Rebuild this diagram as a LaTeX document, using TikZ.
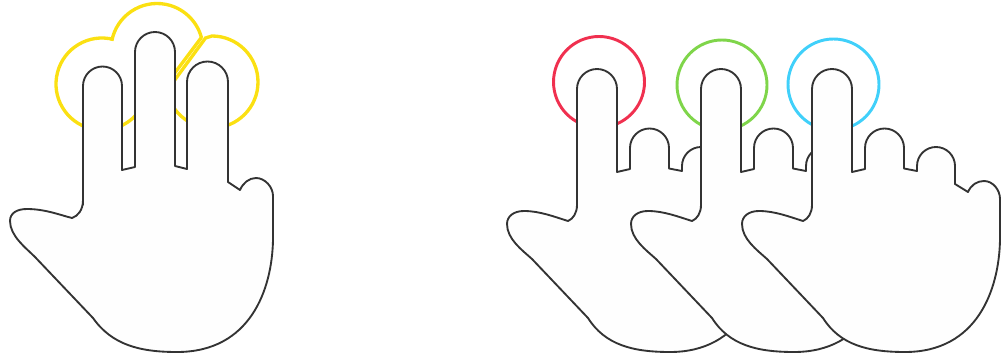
\documentclass[tikz,border=0pt]{standalone}
\definecolor{handline}{HTML}{333333}
\definecolor{handfill}{HTML}{FEFEFE}
\definecolor{ringyellow}{HTML}{FBE012}
\definecolor{ringred}{HTML}{F0304F}
\definecolor{ringgreen}{HTML}{7FD54A}
\definecolor{ringblue}{HTML}{40D0FA}
\tikzset{
  handshape/.style={draw=handline,fill=handfill,line width=1.4pt,line join=round},
  ring/.style={line width=2.2pt,line cap=butt},
  onefinger/.pic={
    \path[handshape] (812,-205) -- (812,-89) arc[start angle=180,end angle=0,radius=20]
      -- (852,-172) -- (865,-169) -- (865,-148) arc[start angle=180,end angle=0,radius=19.5]
      -- (904,-168.5) -- (917,-171) -- (917,-166) arc[start angle=180,end angle=0,radius=19]
      -- (955,-184) -- (968,-192) .. controls (971,-185) and (977,-181) .. (984,-181)
      .. controls (993,-181) and (1000,-190) .. (1000,-199) -- (1000,-240)
      .. controls (999,-290) and (977,-352) .. (905,-352)
      .. controls (868,-352) and (840,-345) .. (823,-318) -- (767,-259)
      .. controls (757,-250) and (742,-239) .. (742,-224)
      .. controls (742,-216) and (749,-211) .. (759,-211)
      .. controls (775,-211) and (790,-217) .. (803,-221)
      .. controls (808,-219) and (812,-213) .. (812,-205) -- cycle;
  }
}
\begin{document}
\begin{tikzpicture}[x=0.75pt,y=0.75pt]
\useasboundingbox (0,0) rectangle (1002,-357);
% yellow rings
\draw[ring,ringyellow,line width=2.5pt] (102,-84) ++(75.6:46*0.75pt) arc[start angle=75.6,end angle=320,radius=46];
\draw[ring,ringyellow,line width=2.5pt] (157,-49.5) ++(169:46*0.75pt) arc[start angle=169,end angle=16,radius=46] -- (201,-38) -- (174,-74);
\draw[ring,ringyellow,line width=2.5pt] (174,-81) -- (205.5,-38) -- (212,-36) arc[start angle=90,end angle=-150,radius=46];
% three-finger hand
\path[handshape] (83,-205) -- (83,-86) arc[start angle=180,end angle=0,radius=19.5]
  -- (122,-170) -- (135,-167) -- (135,-52) arc[start angle=180,end angle=0,radius=20]
  -- (175,-166) -- (187,-169) -- (187,-82) arc[start angle=180,end angle=0,radius=20.5]
  -- (228,-182) -- (240,-190) .. controls (243,-183) and (249,-178) .. (256,-178)
  .. controls (265,-178) and (273,-187) .. (273,-196) -- (273,-240)
  .. controls (272,-290) and (250,-352) .. (177,-352)
  .. controls (140,-352) and (112,-345) .. (93,-318) -- (35,-257)
  .. controls (26,-248) and (10,-236) .. (10,-221)
  .. controls (10,-213) and (17,-209) .. (27,-209)
  .. controls (45,-209) and (60,-215) .. (72,-218)
  .. controls (78,-216) and (83,-210) .. (83,-200) -- cycle;
% one-finger hands with their rings
\draw[ring,ringred] (599,-82) circle[radius=45.5];
\pic at (-235,0) {onefinger};
\draw[ring,ringgreen] (722,-85) circle[radius=45];
\pic at (-111,0) {onefinger};
\draw[ring,ringblue] (833.5,-84.5) circle[radius=45.5];
\pic at (0,0) {onefinger};
\end{tikzpicture}
\end{document}
